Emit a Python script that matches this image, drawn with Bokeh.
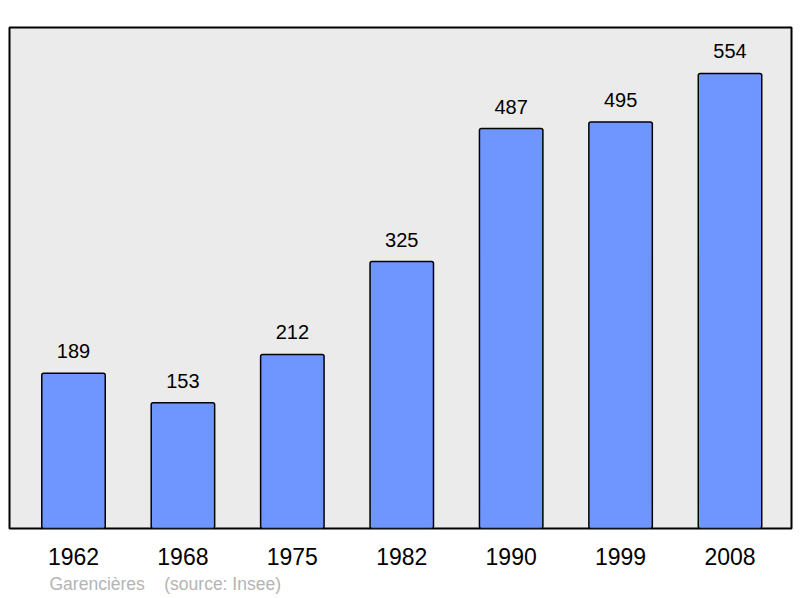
from bokeh.plotting import figure
from bokeh.models import Range1d, FixedTicker, Title, ColumnDataSource
from bokeh.core.properties import value
from bokeh.embed import file_html
from bokeh.resources import INLINE

years = ["1962", "1968", "1975", "1982", "1990", "1999", "2008"]
population = [189, 153, 212, 325, 487, 495, 554]
commune = "Garencières"
source_note = "(source: Insee)"

idx = list(range(len(years)))
src = ColumnDataSource(dict(x=idx, top=population, label=[str(v) for v in population]))

FONT = "Liberation Sans"

p = figure(width=800, height=598, output_backend="svg", toolbar_location=None,
           x_range=Range1d(-0.585, 6.562), y_range=Range1d(0, 610),
           min_border_left=9, min_border_right=9, min_border_top=27, min_border_bottom=70)
p.background_fill_color = "#ebebeb"
p.border_fill_color = "white"
p.outline_line_color = "black"
p.outline_line_width = 2
p.xgrid.visible = False
p.ygrid.visible = False
p.yaxis.visible = False

p.vbar(x="x", top="top", bottom=0, width=0.58, source=src,
       fill_color="#6f96ff", line_color="black", line_width=1.5, border_radius=2)
p.text(x="x", y="top", text="label", source=src, text_align="center",
       text_baseline="alphabetic", y_offset=-22, text_font=value(FONT),
       text_font_size="20px", text_color="black")

ax = p.xaxis[0]
ax.ticker = FixedTicker(ticks=idx)
ax.major_label_overrides = {i: y for i, y in zip(idx, years)}
ax.axis_line_color = None
ax.major_tick_line_color = None
ax.minor_tick_line_color = None
ax.major_label_standoff = 13
ax.major_label_text_font = FONT
ax.major_label_text_font_size = "23px"
ax.major_label_text_color = "black"

footer = Title(text=commune + "\u00a0\u00a0\u00a0\u00a0" + source_note, align="left",
               offset=40, text_font=FONT, text_font_size="17.5px",
               text_font_style="normal", text_color="#b4b4b4", standoff=9)
p.add_layout(footer, "below")

open("out.html", "w").write(file_html(p, INLINE))
